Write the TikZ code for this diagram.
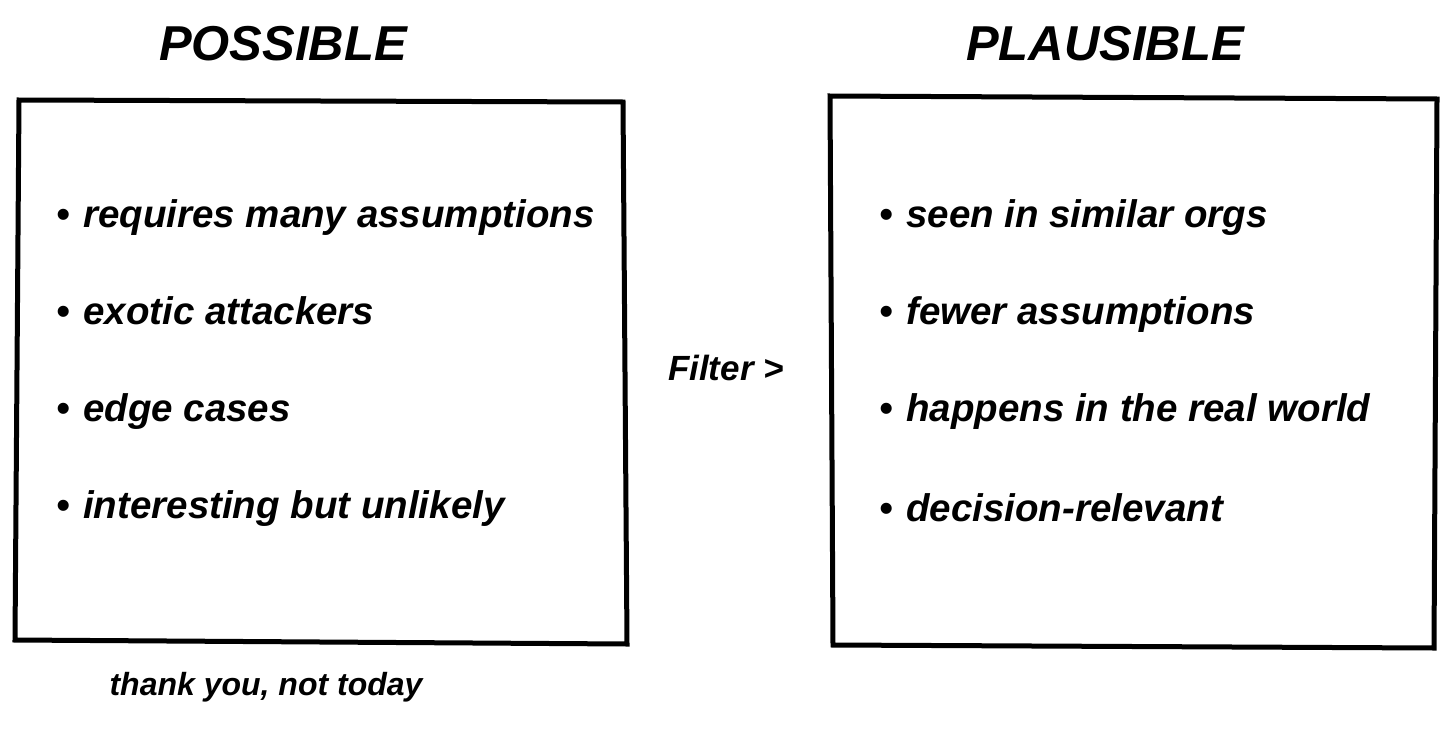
\documentclass[tikz,border=0pt]{standalone}
\usepackage{fontspec}
\setmainfont{Liberation Sans}
\tikzset{
  sketchbox/.style={draw=black, line width=5pt, line join=miter},
  title/.style={anchor=base, inner sep=0pt, font=\fontsize{49}{52}\selectfont\bfseries\itshape},
  item/.style={anchor=base west, inner sep=0pt, font=\fontsize{38.5}{42}\selectfont\bfseries\itshape},
  note/.style={anchor=base, inner sep=0pt, font=\fontsize{35}{38}\selectfont\bfseries\itshape},
  small/.style={anchor=base, inner sep=0pt, font=\fontsize{32}{36}\selectfont\bfseries\itshape}
}
\newcommand{\bul}{\makebox[27pt][l]{•}}
\begin{document}
\begin{tikzpicture}[x=1pt,y=-1pt]
\useasboundingbox (0,0) rectangle (1456,728);
% boxes
\draw[sketchbox] (19,100) -- (623,102) -- (627,644) -- (15,640) -- cycle;
\draw[sketchbox] (830,96) -- (1437,99) -- (1434,648) -- (833,645) -- cycle;
% titles
\node[title] (t1) at (283,60) {POSSIBLE};
\node[title] (t2) at (1105,60) {PLAUSIBLE};
% left items
\node[item] (l1) at (56,227) {\bul requires many assumptions};
\node[item] (l2) at (56,324) {\bul exotic attackers};
\node[item] (l3) at (56,421) {\bul edge cases};
\node[item] (l4) at (56,518) {\bul interesting but unlikely};
% right items
\node[item] (r1) at (879,227) {\bul seen in similar orgs};
\node[item] (r2) at (879,324) {\bul fewer assumptions};
\node[item] (r3) at (879,421) {\bul happens in the real world};
\node[item] (r4) at (879,521) {\bul decision-relevant};
% middle and footer
\node[note] (f) at (726,380) {Filter >};
\node[small] (n) at (266,695) {thank you, not today};
\end{tikzpicture}
\end{document}
